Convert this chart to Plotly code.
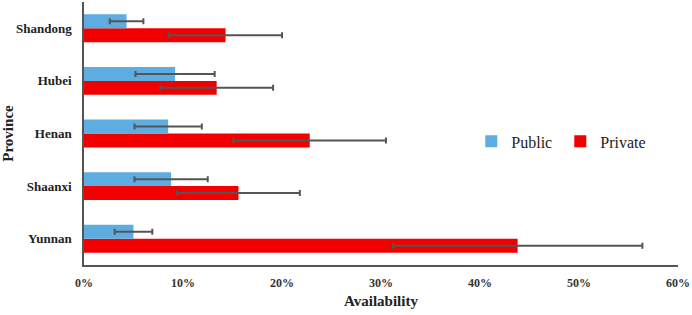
import plotly.graph_objects as go

provinces = ["Shandong", "Hubei", "Henan", "Shaanxi", "Yunnan"]
public_vals = [0.043, 0.092, 0.085, 0.088, 0.050]
public_err = [0.017, 0.040, 0.034, 0.037, 0.019]
private_vals = [0.143, 0.134, 0.228, 0.156, 0.438]
private_err = [0.057, 0.057, 0.077, 0.062, 0.126]
x_ticks = [0, 0.1, 0.2, 0.3, 0.4, 0.5, 0.6]

serif = "Liberation Serif, Times New Roman, serif"
err_style = dict(type="data", visible=True, color="#555555", thickness=2, width=3)

fig = go.Figure()
fig.add_trace(go.Bar(
    y=provinces, x=private_vals, orientation="h", name="Private",
    marker=dict(color="#F20000", line=dict(width=0)),
    error_x=dict(array=private_err, **err_style), legendrank=2,
))
fig.add_trace(go.Bar(
    y=provinces, x=public_vals, orientation="h", name="Public",
    marker=dict(color="#5DADE2", line=dict(width=0)),
    error_x=dict(array=public_err, **err_style), legendrank=1,
))

fig.update_layout(
    width=692, height=315,
    margin=dict(l=84, r=14, t=2, b=50),
    paper_bgcolor="white", plot_bgcolor="white",
    barmode="group", bargap=0.47, bargroupgap=0,
    font=dict(family=serif, color="#222222"),
    legend=dict(orientation="h", x=0.652, y=0.47, xanchor="left", yanchor="middle",
                font=dict(size=16, family=serif, color="#222222"),
                entrywidth=44, entrywidthmode="pixels",
                bgcolor="rgba(0,0,0,0)", itemwidth=30, tracegroupgap=0),
    xaxis=dict(range=[0, 0.6], tickvals=x_ticks, tickformat=".0%", automargin=False,
               showgrid=False, zeroline=False, showline=True, linecolor="#555555", linewidth=1.5,
               ticks="", ticklabelstandoff=6,
               tickfont=dict(size=12, family=serif, color="#333333", weight="bold"),
               title=dict(text="<b>Availability</b>", font=dict(size=15, family=serif, color="#222222"), standoff=6)),
    yaxis=dict(categoryorder="array", categoryarray=provinces[::-1], automargin=False,
               showgrid=False, zeroline=False, showline=True, linecolor="#555555", linewidth=1.5,
               ticks="", ticklabelstandoff=8,
               tickfont=dict(size=13, family=serif, color="#222222", weight="bold"),
               title=dict(text="<b>Province</b>", font=dict(size=15, family=serif, color="#222222"), standoff=4)),
)

fig.write_html("out.html", config={"displayModeBar": False},
               post_script="document.body.style.margin='0';document.body.style.overflow='hidden';")
